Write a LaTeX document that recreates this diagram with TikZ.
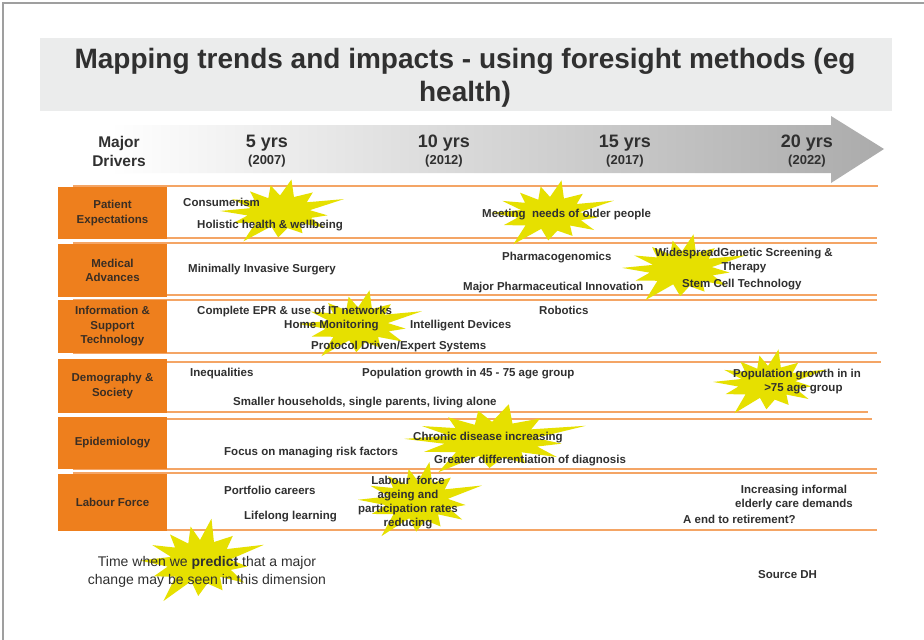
\documentclass[tikz,border=0pt]{standalone}
\usepackage{fontspec}
\setmainfont{Liberation Sans}
\definecolor{orng}{HTML}{EE7F1D}
\definecolor{oline}{HTML}{F4A565}
\definecolor{txt}{HTML}{303030}
\definecolor{cattxt}{HTML}{3A2E24}
\definecolor{titlebg}{HTML}{EBECEC}
\definecolor{starc}{HTML}{E6E000}
\newcommand{\burst}[4]{%
  \begin{scope}[shift={(#1,#2)}, xscale=#3, yscale=-#4]
    \fill[starc] (126:0.85) -- (113:0.5) -- (100:0.9) -- (90:0.55) -- (80:1.1) -- (65:0.55)
      -- (50:0.85) -- (36:0.55) -- (22:1.15) -- (7:0.5) -- (-8:0.8) -- (-21:0.55)
      -- (-35:0.9) -- (-48:0.5) -- (-62:0.8) -- (-77:0.55) -- (-92:0.85) -- (-107:0.5)
      -- (-122:1.15) -- (-138:0.55) -- (-155:0.85) -- (-168:0.55) -- (178:1.0)
      -- (165:0.5) -- (152:0.9) -- (139:0.55) -- cycle;
  \end{scope}}
\begin{document}
\begin{tikzpicture}[x=1pt,y=-1pt,
  lbl/.style={font=\bfseries\fontsize{11.5}{14}\selectfont, text=txt, inner sep=0pt,
    anchor=west, text height=7.5pt, text depth=0pt},
  clbl/.style={font=\bfseries\fontsize{11.5}{14}\selectfont, text=txt, inner sep=0pt,
    align=center},
  catbox/.style={fill=orng, inner sep=0pt, minimum width=109pt, align=center,
    font=\bfseries\fontsize{11.5}{14.5}\selectfont, text=cattxt},
  rowline/.style={draw=oline, line width=1.3pt},
  yrs/.style={font=\bfseries\fontsize{18}{20}\selectfont, text=txt, inner sep=0pt},
  yr/.style={font=\bfseries\fontsize{13}{15}\selectfont, text=txt, inner sep=0pt}]
\useasboundingbox (0,0) rectangle (924,640);
\fill[white] (0,0) rectangle (924,640);
\draw[gray!75, line width=1.2pt] (3,640) -- (3,3) -- (924,3);

% title
\fill[titlebg] (40,38) rectangle (892,111);
\node[font=\bfseries\fontsize{28}{33}\selectfont, text=txt, align=center, inner sep=0pt]
  (title) at (465,78) {Mapping trends and impacts - using foresight methods (eg\\health)};

% timeline arrow
\shade[left color=white, right color=black!33]
  (110,125) -- (831,125) -- (831,116) -- (884,149) -- (831,183) -- (831,173) -- (110,173) -- cycle;
\node[font=\bfseries\fontsize{15.5}{19}\selectfont, text=txt, align=center, inner sep=0pt]
  (drivers) at (119,151) {Major\\Drivers};
\node[yrs] (y5) at (267,143) {5 yrs};
\node[yr] (d5) at (267,161) {(2007)};
\node[yrs] (y10) at (444,143) {10 yrs};
\node[yr] (d10) at (444,161) {(2012)};
\node[yrs] (y15) at (625,143) {15 yrs};
\node[yr] (d15) at (625,161) {(2017)};
\node[yrs] (y20) at (807,143) {20 yrs};
\node[yr] (d20) at (807,161) {(2022)};

% row lines
\draw[rowline] (73,186) -- (878,186);
\draw[rowline] (73,238) -- (877,238);
\draw[rowline] (73,243) -- (877,243);
\draw[rowline] (73,295) -- (877,295);
\draw[rowline] (73,300) -- (877,300);
\draw[rowline] (73,353) -- (877,353);
\draw[rowline] (73,362) -- (881,362);
\draw[rowline] (73,412) -- (868,412);
\draw[rowline] (73,419) -- (872,419);
\draw[rowline] (73,469) -- (877,469);
\draw[rowline] (73,473) -- (877,473);
\draw[rowline] (58,530) -- (877,530);

% category boxes
\node[catbox, minimum height=52pt] (pe) at (112.5,213) {Patient\\Expectations};
\node[catbox, minimum height=53pt] (ma) at (112.5,270.5) {Medical\\Advances};
\node[catbox, minimum height=53pt] (ist) at (112.5,326.5) {Information \&\\Support\\Technology};
\node[catbox, minimum height=54pt] (ds) at (112.5,386) {Demography \&\\Society};
\node[catbox, minimum height=52pt] (ep) at (112.5,443) {Epidemiology};
\node[catbox, minimum height=57pt] (lf) at (112.5,502.5) {Labour Force};

% bursts
\burst{280}{212}{60}{30}
\burst{550}{214}{60}{31}
\burst{682}{269}{60}{32}
\burst{358}{325}{60}{32}
\burst{768}{383}{55}{31}
\burst{492}{440}{88}{33}
\burst{418}{501}{60}{36}
\burst{200}{562}{60}{40}

% row 1
\node[lbl] (t1) at (183,203) {Consumerism};
\node[lbl] (t2) at (197,225) {Holistic health \& wellbeing};
\node[lbl] (t3) at (482,214) {Meeting\ \ needs of older people};
% row 2
\node[lbl] (t4) at (188,269) {Minimally Invasive Surgery};
\node[lbl] (t5) at (502,257) {Pharmacogenomics};
\node[lbl] (t6) at (463,287) {Major Pharmaceutical Innovation};
\node[clbl] (t7) at (744,261) {WidespreadGenetic Screening \&\\Therapy};
\node[lbl] (t8) at (682,284) {Stem Cell Technology};
% row 3
\node[lbl] (t9) at (197,311) {Complete EPR \& use of IT networks};
\node[lbl] (t10) at (284,325) {Home Monitoring};
\node[lbl] (t11) at (410,325) {Intelligent Devices};
\node[lbl] (t12) at (311,346) {Protocol Driven/Expert Systems};
\node[lbl] (t13) at (539,311) {Robotics};
% row 4
\node[lbl] (t14) at (190,373) {Inequalities};
\node[lbl] (t15) at (362,373) {Population growth in 45 - 75 age group};
\node[lbl] (t16) at (233,402) {Smaller households, single parents, living alone};
\node[clbl] (t17) at (797,382) {Population growth in in\\\ \ \ \ >75 age group};
% row 5
\node[lbl] (t18) at (224,452) {Focus on managing risk factors};
\node[lbl] (t19) at (413,437) {Chronic disease increasing};
\node[lbl] (t20) at (434,460) {Greater differentiation of diagnosis};
% row 6
\node[lbl] (t21) at (224,491) {Portfolio careers};
\node[lbl] (t22) at (244,516) {Lifelong learning};
\node[clbl, font=\bfseries\fontsize{11.5}{14.3}\selectfont] (t23) at (408,502.5)
  {Labour\ \ force\\ageing and\\participation rates\\reducing};
\node[clbl] (t24) at (794,498) {Increasing informal\\elderly care demands};
\node[lbl] (t25) at (683,520) {A end to retirement?};

% bottom
\node[font=\fontsize{14}{18}\selectfont, text=txt, align=center, inner sep=0pt]
  (note) at (207,572)
  {Time when we \textbf{predict} that a major\\change may be seen in this dimension};
\node[lbl] (src) at (758,575) {Source DH};
\end{tikzpicture}
\end{document}
